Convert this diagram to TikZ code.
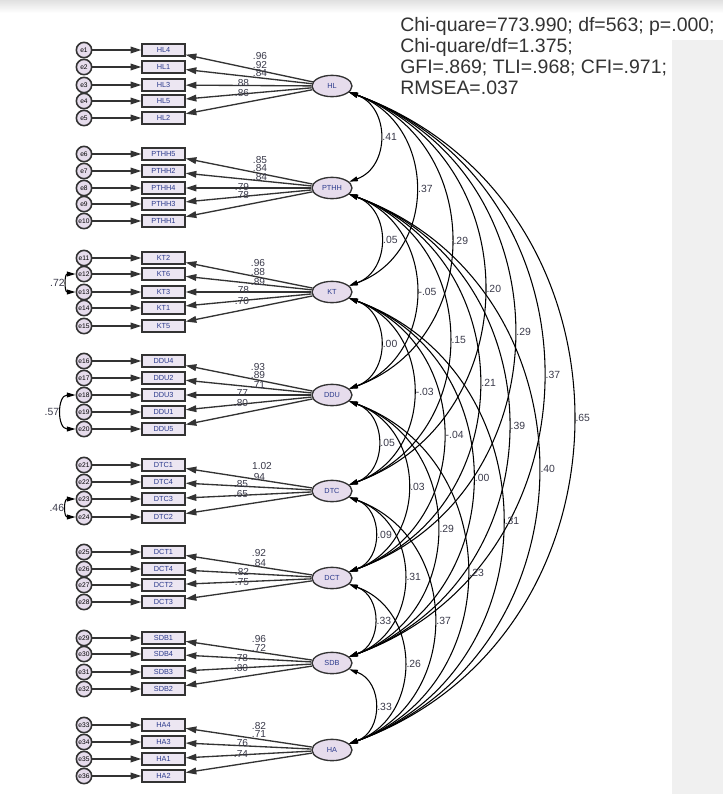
\documentclass[tikz,border=0pt]{standalone}
\usepackage{fontspec}
\setmainfont{Liberation Sans}
\usepackage{tikz}
\usetikzlibrary{shapes.geometric, arrows.meta, calc}
\usepackage{xcolor}
\definecolor{latfill}{HTML}{E6DCEC}
\definecolor{obsfill}{HTML}{ECE6F2}
\definecolor{edgegrey}{HTML}{333333}
\definecolor{namenavy}{HTML}{2B3A8C}
\definecolor{numgrey}{HTML}{3A3A4A}
\definecolor{panelgrey}{HTML}{F0F0F0}
\tikzset{
  latent/.style={ellipse, draw=edgegrey, fill=latfill, line width=1pt,
                 minimum width=30pt, minimum height=16pt, inner sep=0pt,
                 font=\fontsize{5.5}{6}\selectfont, text=namenavy},
  obs/.style={rectangle, draw=edgegrey, fill=obsfill, line width=1.3pt,
              minimum width=32pt, minimum height=8.5pt, inner sep=0pt,
              font=\fontsize{5.5}{6}\selectfont, text=namenavy},
  errc/.style={circle, draw=edgegrey, fill=latfill, line width=1.2pt,
               minimum size=11.5pt, inner sep=0pt,
               font=\fontsize{5}{5}\selectfont},
  path/.style={-{Triangle[length=8pt,width=5pt]}, line width=1pt, draw=edgegrey},
  cov/.style={{Triangle[length=6.5pt,width=3.6pt]}-{Triangle[length=6.5pt,width=3.6pt]},
              line width=0.8pt, draw=black},
  lbl/.style={font=\fontsize{7.6}{8}\selectfont, text=numgrey, inner sep=0pt},
  clbl/.style={font=\fontsize{7.8}{8}\selectfont, text=numgrey, inner sep=1.5pt},
  fitbox/.style={font=\fontsize{14.6}{15.8}\selectfont, text=black!80, align=left,
                 inner sep=0pt, anchor=north west},
}

\begin{document}
\begin{tikzpicture}[x=0.75pt, y=0.75pt]
  \useasboundingbox (0,0) rectangle (723,-794);
  % page background
  \fill[white] (0,0) rectangle (723,-794);
  \shade[top color=black!12, bottom color=white] (0,0) rectangle (723,-13);
  \fill[panelgrey] (672,-40) rectangle (723,-794);

  % latent factors
  \node[latent] (HL)   at (332,-86)  {HL};
  \node[latent] (PTHH) at (332,-188) {PTHH};
  \node[latent] (KT)   at (332,-292) {KT};
  \node[latent] (DDU)  at (332,-395) {DDU};
  \node[latent] (DTC)  at (332,-491) {DTC};
  \node[latent] (DCT)  at (332,-578) {DCT};
  \node[latent] (SDB)  at (332,-663) {SDB};
  \node[latent] (HA)   at (332,-750) {HA};

  % indicators, error terms and loadings
  \foreach \ind/\yy/\lat/\err/\val/\lx/\ly in {
      HL4/50/HL/1/.96/260/56, HL1/67/HL/2/.92/260/65, HL3/85/HL/3/.84/260/73,
      HL5/101/HL/4/.88/242/83, HL2/118/HL/5/.86/242/93,
      PTHH5/154/PTHH/6/.85/260/160, PTHH2/171/PTHH/7/.84/260/168,
      PTHH4/188/PTHH/8/.84/260/177, PTHH3/204/PTHH/9/.79/242/187,
      PTHH1/221/PTHH/10/.78/242/195,
      KT2/258/KT/11/.96/258/263, KT6/274/KT/12/.88/258/272, KT3/292/KT/13/.89/258/282,
      KT1/308/KT/14/.78/242/290, KT5/326/KT/15/.70/242/301,
      DDU4/361/DDU/16/.93/258/367, DDU2/378/DDU/17/.89/258/375,
      DDU3/395/DDU/18/.71/258/385, DDU1/412/DDU/19/.77/241/393,
      DDU5/429/DDU/20/.80/241/403,
      DTC1/465/DTC/21/1.02/262/466, DTC4/482/DTC/22/.94/258/477,
      DTC3/499/DTC/23/.85/241/484, DTC2/517/DTC/24/.65/241/494,
      DCT1/552/DCT/25/.92/259/553, DCT4/569/DCT/26/.84/259/563,
      DCT2/585/DCT/27/.82/242/572, DCT3/602/DCT/28/.75/242/582,
      SDB1/638/SDB/29/.96/259/639, SDB4/654/SDB/30/.72/259/648,
      SDB3/672/SDB/31/.78/241/658, SDB2/689/SDB/32/.80/241/668,
      HA4/725/HA/33/.82/259/726, HA3/742/HA/34/.71/259/734,
      HA1/759/HA/35/.76/241/743, HA2/776/HA/36/.74/241/754}{
    \node[errc] (e\err) at (84,-\yy) {e\err};
    \node[obs] (\ind) at (163.5,-\yy) {\ind};
    \draw[path] (e\err) -- (\ind);
    \draw[path] (\lat) -- (\ind);
    \node[lbl] (l\ind) at (\lx,-\ly) {\val};
  }

  % correlated errors
  \draw[cov] (e12) to[bend right=90, looseness=1.6] node[clbl, left] {.72} (e13);
  \draw[cov] (e18) to[bend right=90, looseness=1.4] node[clbl, left] {.57} (e20);
  \draw[cov] (e23) to[bend right=90, looseness=1.7] node[clbl, left] {.46} (e24);

  % factor covariances
  \foreach \a/\b/\val in {
      HL/PTHH/.41, HL/KT/.37, HL/DDU/.29, HL/DTC/.20, HL/DCT/.29, HL/SDB/.37, HL/HA/.65,
      PTHH/KT/.05, PTHH/DDU/-.05, PTHH/DTC/.15, PTHH/DCT/.21, PTHH/SDB/.39, PTHH/HA/.40,
      KT/DDU/.00, KT/DTC/-.03, KT/DCT/-.04, KT/SDB/.00, KT/HA/.31,
      DDU/DTC/.05, DDU/DCT/.03, DDU/SDB/.29, DDU/HA/.23,
      DTC/DCT/.09, DTC/SDB/.31, DTC/HA/.37,
      DCT/SDB/.33, DCT/HA/.26,
      SDB/HA/.33}{
    \draw[cov] (\a) to[bend left=70, looseness=1.25] node[clbl, right] {\val} (\b);
  }

  % fit indices
  \node[fitbox] (fit) at (400,-17)
    {Chi-quare=773.990; df=563; p=.000;\\Chi-quare/df=1.375;\\GFI=.869; TLI=.968; CFI=.971;\\RMSEA=.037};
\end{tikzpicture}
\end{document}
